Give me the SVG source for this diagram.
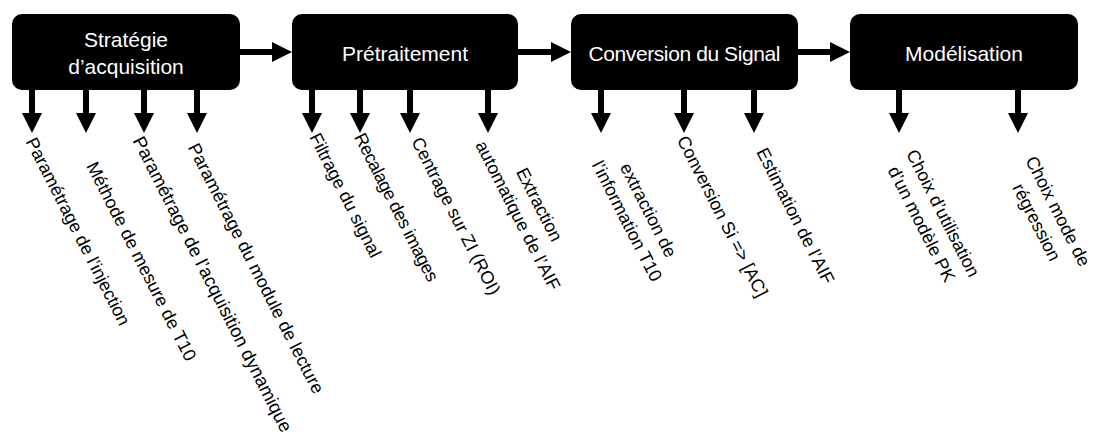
<svg xmlns="http://www.w3.org/2000/svg" width="1094" height="437" viewBox="0 0 1094 437">
<defs>
<style>
.box{fill:#000}
.title{font-family:"Liberation Sans",Arial,sans-serif;font-size:21px;fill:#fff;text-anchor:middle}
.lbl{font-family:"Liberation Sans",Arial,sans-serif;font-size:18px;fill:#000;text-anchor:middle}
.conn{stroke:#000;stroke-width:6;fill:none;marker-end:url(#ah)}
</style>
<marker id="ah" markerUnits="userSpaceOnUse" markerWidth="20" markerHeight="20" refX="0" refY="10" orient="auto" viewBox="0 0 20 20"><path d="M0,0 L20,10 L0,20 Z" fill="#000"/></marker>
</defs>
<rect width="1094" height="437" fill="#fff"/>

<g id="connectors">
<line class="conn" x1="240" y1="52" x2="272" y2="52"/>
<line class="conn" x1="518" y1="52" x2="551" y2="52"/>
<line class="conn" x1="798" y1="52" x2="830" y2="52"/>
<line class="conn" x1="32" y1="90" x2="32" y2="113"/>
<line class="conn" x1="86" y1="90" x2="86" y2="113"/>
<line class="conn" x1="144" y1="90" x2="144" y2="113"/>
<line class="conn" x1="197" y1="90" x2="197" y2="113"/>
<line class="conn" x1="312" y1="90" x2="312" y2="113"/>
<line class="conn" x1="360" y1="90" x2="360" y2="113"/>
<line class="conn" x1="410" y1="90" x2="410" y2="113"/>
<line class="conn" x1="488" y1="90" x2="488" y2="113"/>
<line class="conn" x1="601" y1="90" x2="601" y2="113"/>
<line class="conn" x1="684" y1="90" x2="684" y2="113"/>
<line class="conn" x1="754" y1="90" x2="754" y2="113"/>
<line class="conn" x1="899" y1="90" x2="899" y2="113"/>
<line class="conn" x1="1018" y1="90" x2="1018" y2="113"/>
</g>

<g id="node-strategie">
<rect class="box" x="12" y="14" width="228" height="76" rx="10"/>
<text class="title" x="126" y="47">Stratégie</text>
<text class="title" x="126" y="74">d’acquisition</text>
</g>
<g id="node-pretraitement">
<rect class="box" x="292" y="14" width="226" height="76" rx="10"/>
<text class="title" x="405" y="61">Prétraitement</text>
</g>
<g id="node-conversion">
<rect class="box" x="571" y="14" width="227" height="76" rx="10"/>
<text class="title" x="684.5" y="61" textLength="192">Conversion du Signal</text>
</g>
<g id="node-modelisation">
<rect class="box" x="850" y="14" width="228" height="76" rx="10"/>
<text class="title" x="964" y="61">Modélisation</text>
</g>

<g id="label-injection"><text class="lbl" transform="translate(72.6,234.2) rotate(63)">Paramétrage de l’injection</text></g>
<g id="label-t10"><text class="lbl" transform="translate(136,264) rotate(63)">Méthode de mesure de T10</text></g>
<g id="label-acq-dyn"><text class="lbl" style="font-size:18.5px" transform="translate(207,287) rotate(63)">Paramétrage de l’acquisition dynamique</text></g>
<g id="label-lecture"><text class="lbl" textLength="278" transform="translate(250.6,271.2) rotate(63)">Paramétrage du module de lecture</text></g>
<g id="label-filtrage"><text class="lbl" transform="translate(340,198) rotate(63)">Filtrage du signal</text></g>
<g id="label-recalage"><text class="lbl" textLength="164" transform="translate(391,210) rotate(63)">Recalage des images</text></g>
<g id="label-centrage"><text class="lbl" transform="translate(450.6,218.7) rotate(63)">Centrage sur ZI (ROI)</text></g>
<g id="label-extraction-aif"><text class="lbl" transform="translate(533.8,207.3) rotate(63)">Extraction<tspan x="0" dy="24">automatique de l’AIF</tspan></text></g>
<g id="label-extraction-t10"><text class="lbl" transform="translate(643,213) rotate(63)">extraction de<tspan x="0" dy="24">l’information T10</tspan></text></g>
<g id="label-conv-si"><text class="lbl" transform="translate(717,219) rotate(63)">Conversion Si =&gt; [AC]</text></g>
<g id="label-estimation"><text class="lbl" transform="translate(790,218.7) rotate(63)">Estimation de l’AIF</text></g>
<g id="label-choix-pk"><text class="lbl" transform="translate(937.5,216) rotate(63)">Choix d’utilisation<tspan x="0" dy="24">d’un modèle PK</tspan></text></g>
<g id="label-choix-reg"><text class="lbl" transform="translate(1052.5,214.1) rotate(63)">Choix mode de<tspan x="0" dy="24">régression</tspan></text></g>
</svg>
